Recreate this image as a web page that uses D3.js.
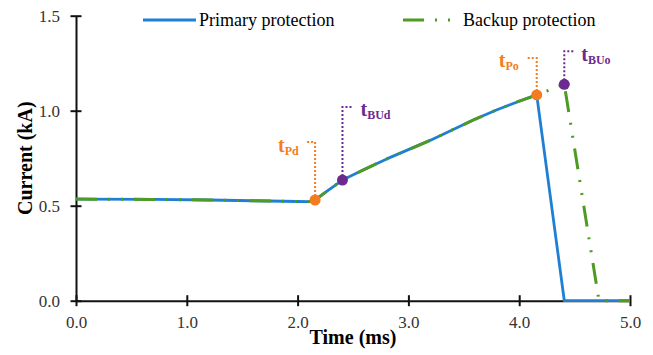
<!DOCTYPE html>
<html>
<head>
<meta charset="utf-8">
<script src="https://cdn.jsdelivr.net/npm/d3@7"></script>
<style>
  html, body { margin: 0; padding: 0; background: #fff; }
  svg, svg text { font-family: "Liberation Serif", Tinos, "DejaVu Serif", "Noto Serif", serif !important; }
  svg { display: block; }
</style>
</head>
<body>
<svg id="chart" width="653" height="355"></svg>
<script>
// Fault current through the protected line (kA) versus time (ms)
const primaryTime    = [0, 0.7, 1.2, 1.6, 2.0, 2.1, 2.158, 2.25, 2.405, 2.6, 2.8, 3.0, 3.2, 3.4, 3.6, 3.8, 4.0, 4.158, 4.407, 5.0];
const primaryCurrent = [0.535, 0.533, 0.530, 0.526, 0.522, 0.521, 0.530, 0.57, 0.635, 0.69, 0.745, 0.795, 0.845, 0.90, 0.955, 1.005, 1.05, 1.083, 0, 0];

const backupTime    = [0, 0.7, 1.2, 1.6, 2.0, 2.1, 2.158, 2.25, 2.405, 2.6, 2.8, 3.0, 3.2, 3.4, 3.6, 3.8, 4.0, 4.158, 4.407, 4.72, 5.0];
const backupCurrent = [0.535, 0.533, 0.530, 0.526, 0.522, 0.521, 0.530, 0.57, 0.635, 0.69, 0.745, 0.795, 0.845, 0.90, 0.955, 1.005, 1.05, 1.083, 1.139, 0, 0];

// Detection / opening instants of the primary and backup relays
const eventSub     = ["Pd", "BUd", "Po", "BUo"];
const eventTime    = [2.158, 2.405, 4.158, 4.407];
const eventCurrent = [0.530, 0.635, 1.083, 1.139];

const xTicks = [0, 1, 2, 3, 4, 5];
const yTicks = [0, 0.5, 1.0, 1.5];
const seriesNames = ["Primary protection", "Backup protection"];

const colors = { primary: "#1f7fd3", backup: "#4e9a22", orange: "#f37c20", purple: "#6b2a8f" };
const backupDash = "21,11,2,11,2,11";

const svg = d3.select("#chart");
const x = d3.scaleLinear().domain([0, 5]).range([76, 630]);
const y = d3.scaleLinear().domain([0, 1.5]).range([300.7, 15.7]);

// Axes with ticks crossing the axis line
const xAxis = svg.append("g").attr("transform", `translate(0,${y(0)})`)
  .call(d3.axisBottom(x).tickValues(xTicks).tickFormat(d3.format(".1f")).tickSize(5.5).tickSizeOuter(0));
xAxis.attr("font-family", null);
xAxis.select(".domain").attr("stroke", "#111").attr("stroke-width", 2);
xAxis.selectAll(".tick line").attr("y1", -5.5).attr("stroke", "#111").attr("stroke-width", 2);
xAxis.selectAll(".tick text").attr("y", 27).attr("dy", 0)
  .attr("font-size", 17).attr("fill", "#333");

const yAxis = svg.append("g").attr("transform", `translate(${x(0)},0)`)
  .call(d3.axisLeft(y).tickValues(yTicks).tickFormat(d3.format(".1f")).tickSize(5.5).tickSizeOuter(0));
yAxis.attr("font-family", null);
yAxis.select(".domain").attr("stroke", "#111").attr("stroke-width", 2);
yAxis.selectAll(".tick line").attr("x1", 5.5).attr("x2", -5.5).attr("stroke", "#111").attr("stroke-width", 2);
yAxis.selectAll(".tick text").attr("x", -16).attr("dy", "0.34em")
  .attr("font-size", 17).attr("fill", "#333");

// Axis titles
svg.append("text").attr("x", (x(0) + x(5)) / 2).attr("y", 344)
  .attr("text-anchor", "middle").attr("font-size", 20).attr("font-weight", "bold").text("Time (ms)");
svg.append("text").attr("transform", `translate(32,${y(0.75)}) rotate(-90)`)
  .attr("text-anchor", "middle").attr("font-size", 20).attr("font-weight", "bold").text("Current (kA)");

// Series lines
const line = d3.line().x(d => x(d[0])).y(d => y(d[1]));
const primaryPts = primaryTime.map((t, i) => [t, primaryCurrent[i]]);
const backupPts = backupTime.map((t, i) => [t, backupCurrent[i]]);

svg.append("path").datum(primaryPts).attr("d", line)
  .attr("fill", "none").attr("stroke", colors.primary).attr("stroke-width", 2.8).attr("stroke-linejoin", "round");
svg.append("path").datum(backupPts).attr("d", line)
  .attr("fill", "none").attr("stroke", colors.backup).attr("stroke-width", 3)
  .attr("stroke-dasharray", backupDash);

// Event annotations: dotted leader, marker and label t_sub
const annot = [
  { color: colors.orange, rise: 58, leg: -10, tx: -27, ty: 10 },
  { color: colors.purple, rise: 73, leg: 10, tx: 8, ty: 9 },
  { color: colors.orange, rise: 37, leg: -10, tx: -28, ty: 9 },
  { color: colors.purple, rise: 33, leg: 10, tx: 7, ty: 10 }
];

eventTime.forEach((t, i) => {
  const a = annot[i];
  const px = x(t), py = y(eventCurrent[i]);
  const topY = py - a.rise;
  svg.append("path")
    .attr("d", `M${px},${py}V${topY}H${px + a.leg}`)
    .attr("fill", "none").attr("stroke", a.color).attr("stroke-width", 2)
    .attr("stroke-dasharray", "2,2");
  const lbl = svg.append("text")
    .attr("x", px + a.leg + a.tx).attr("y", topY + a.ty)
    .attr("fill", a.color).attr("font-weight", "bold");
  lbl.append("tspan").attr("font-size", 20).text("t");
  lbl.append("tspan").attr("font-size", 12).attr("dy", 3).text(eventSub[i]);
});

eventTime.forEach((t, i) => {
  svg.append("circle").attr("cx", x(t)).attr("cy", y(eventCurrent[i])).attr("r", 5.5)
    .attr("fill", annot[i].color);
});

// Legend
const legend = svg.append("g");
legend.append("line").attr("x1", 143).attr("x2", 196).attr("y1", 20).attr("y2", 20)
  .attr("stroke", colors.primary).attr("stroke-width", 2.8);
legend.append("text").attr("x", 199).attr("y", 26).attr("font-size", 18).text(seriesNames[0]);
legend.append("line").attr("x1", 403).attr("x2", 452).attr("y1", 20).attr("y2", 20)
  .attr("stroke", colors.backup).attr("stroke-width", 2.8).attr("stroke-dasharray", backupDash);
legend.append("text").attr("x", 463).attr("y", 26).attr("font-size", 18).text(seriesNames[1]);
</script>
</body>
</html>
